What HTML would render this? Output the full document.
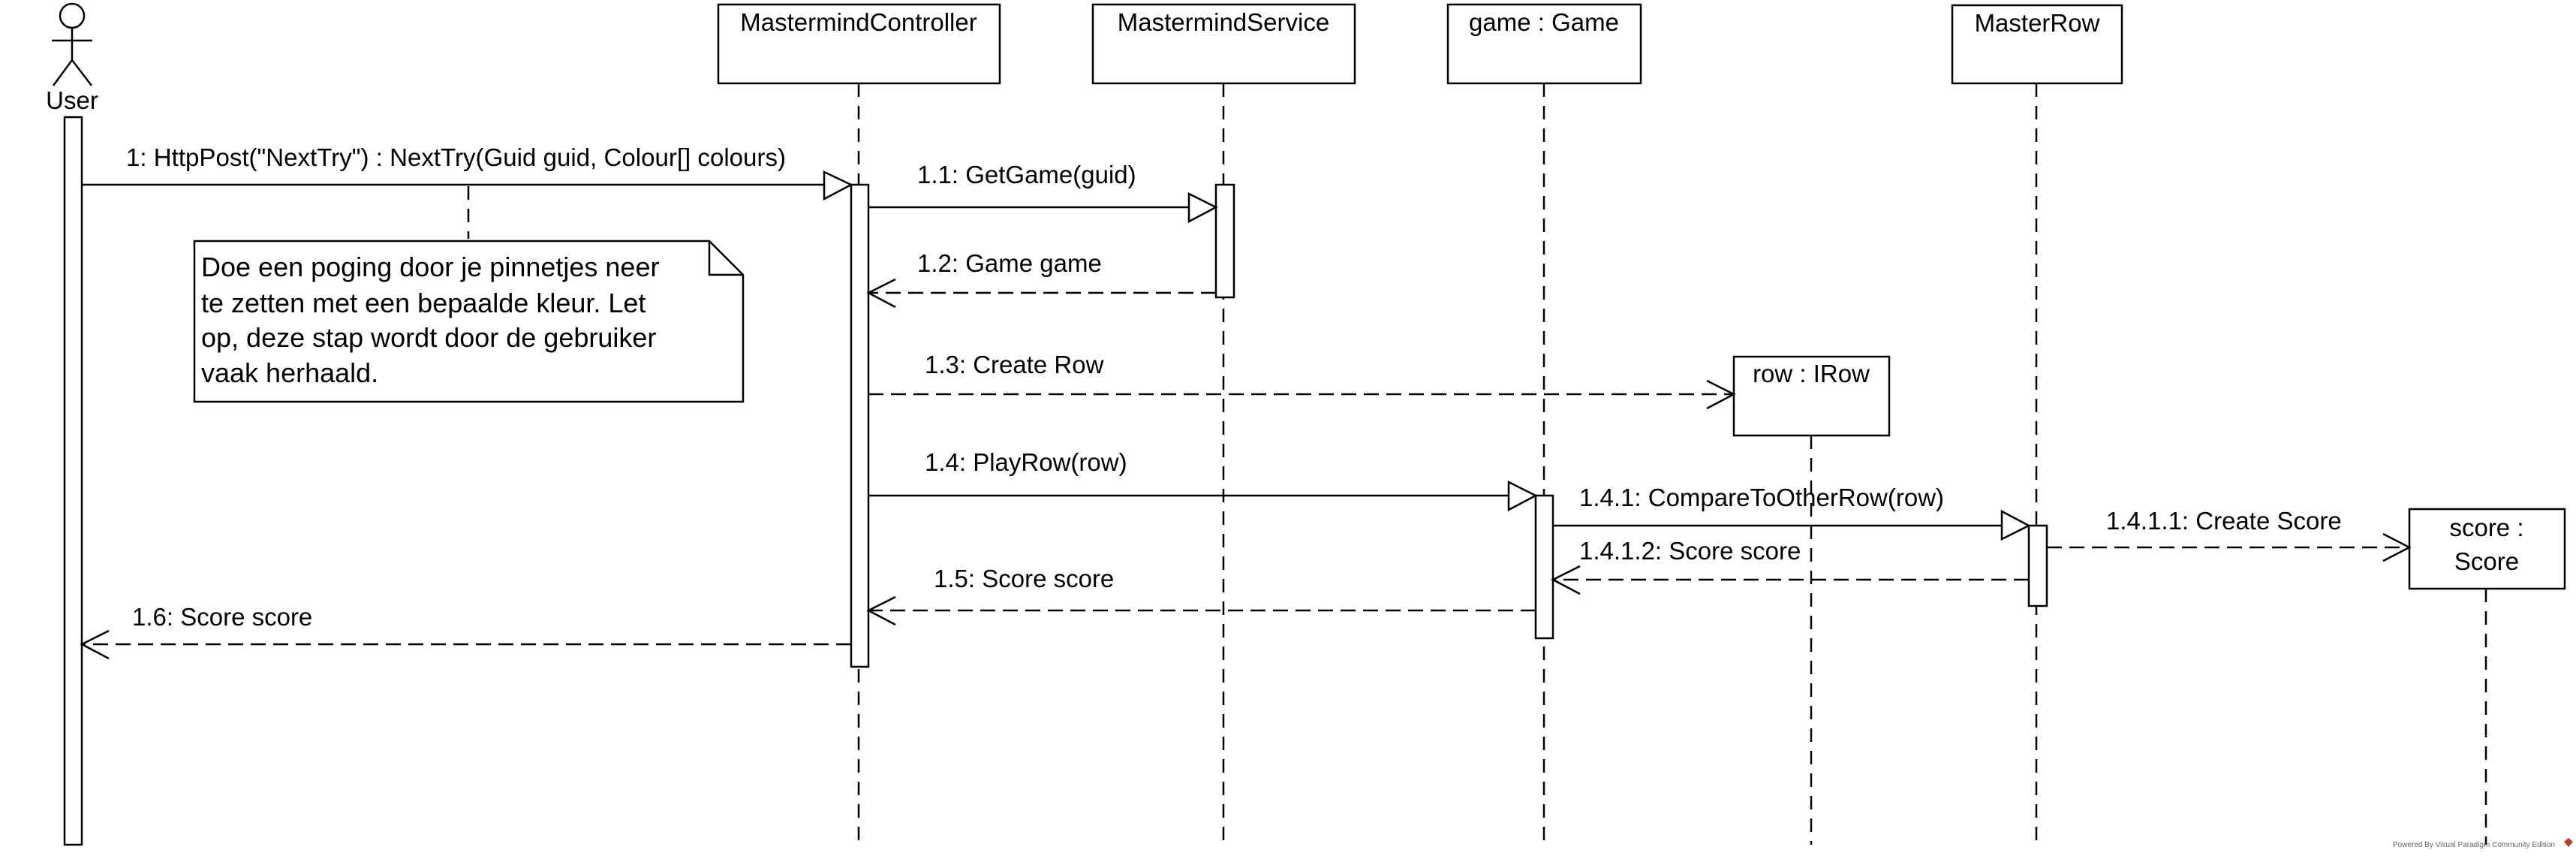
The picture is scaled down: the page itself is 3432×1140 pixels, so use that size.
<!DOCTYPE html>
<html><head><meta charset="utf-8"><style>
html,body{margin:0;padding:0;background:#fff;}
svg{display:block;}
text{font-family:"Liberation Sans",sans-serif;font-size:33px;fill:#000;}
</style></head><body>
<svg width="3432" height="1140" viewBox="0 0 3432 1140" xmlns="http://www.w3.org/2000/svg">
<g fill="none" stroke="#000" stroke-width="2.5">
  <ellipse cx="96" cy="21" rx="16" ry="16" fill="#fff"/>
  <line x1="96" y1="37" x2="96" y2="80"/>
  <line x1="69" y1="54" x2="123" y2="54"/>
  <line x1="96" y1="80" x2="71" y2="114"/>
  <line x1="96" y1="80" x2="122" y2="114"/>

  <g stroke-dasharray="18 12">
    <line x1="1144" y1="111" x2="1144" y2="1125"/>
    <line x1="1630" y1="111" x2="1630" y2="1125"/>
    <line x1="2057" y1="111" x2="2057" y2="1125"/>
    <line x1="2713" y1="111" x2="2713" y2="1125"/>
    <line x1="2413" y1="580" x2="2413" y2="1125"/>
    <line x1="3312" y1="784" x2="3312" y2="1125"/>
    <line x1="624" y1="248" x2="624" y2="318"/>
  </g>

  <rect x="957" y="6" width="375" height="105" fill="#fff"/>
  <rect x="1456" y="6" width="349" height="105" fill="#fff"/>
  <rect x="1929" y="6" width="257" height="105" fill="#fff"/>
  <rect x="2601" y="7" width="226" height="104" fill="#fff"/>
  <rect x="2310" y="475" width="207" height="105" fill="#fff"/>
  <rect x="3210" y="678" width="207" height="106" fill="#fff"/>

  <path d="M259 321 H945 L990 366 V535 H259 Z" fill="#fff"/>
  <path d="M945 321 V366 H990"/>

  <rect x="86" y="156" width="23" height="969" fill="#fff"/>
  <rect x="1134" y="246" width="23" height="642" fill="#fff"/>
  <rect x="1620" y="246" width="24" height="150" fill="#fff"/>
  <rect x="2046" y="660" width="23" height="190" fill="#fff"/>
  <rect x="2703" y="700" width="24" height="107" fill="#fff"/>

  <line x1="109" y1="246" x2="1098" y2="246"/>
  <path d="M1098 229 L1134 246 L1098 265 Z" fill="#fff"/>
  <line x1="1157" y1="276" x2="1584" y2="276"/>
  <path d="M1584 258 L1620 276 L1584 295 Z" fill="#fff"/>
  <line x1="1157" y1="660" x2="2010" y2="660"/>
  <path d="M2010 642 L2046 660 L2010 679 Z" fill="#fff"/>
  <line x1="2069" y1="700" x2="2667" y2="700"/>
  <path d="M2667 681 L2703 700 L2667 718 Z" fill="#fff"/>

  <g stroke-dasharray="20 10">
    <line x1="1620" y1="390" x2="1159" y2="390"/>
    <line x1="1157" y1="525" x2="2308" y2="525"/>
    <line x1="2727" y1="729" x2="3208" y2="729"/>
    <line x1="2703" y1="772" x2="2071" y2="772"/>
    <line x1="2046" y1="813" x2="1159" y2="813"/>
    <line x1="1134" y1="858" x2="111" y2="858"/>
  </g>
  <path d="M1193 372 L1157 390 L1193 409"/>
  <path d="M2274 507 L2310 525 L2274 544"/>
  <path d="M3175 711 L3210 729 L3175 747"/>
  <path d="M2105 754 L2069 772 L2105 791"/>
  <path d="M1193 795 L1157 813 L1193 832"/>
  <path d="M145 840 L109 858 L145 877"/>
</g>

<text x="96" y="145" text-anchor="middle">User</text>
<text x="1144" y="41" text-anchor="middle">MastermindController</text>
<text x="1630" y="41" text-anchor="middle">MastermindService</text>
<text x="2057" y="41" text-anchor="middle">game : Game</text>
<text x="2714" y="42" text-anchor="middle">MasterRow</text>
<text x="2413" y="509" text-anchor="middle">row : IRow</text>
<text x="3313" y="714" text-anchor="middle">score :</text>
<text x="3313" y="759" text-anchor="middle">Score</text>

<text x="168" y="221" textLength="879" lengthAdjust="spacingAndGlyphs">1: HttpPost("NextTry") : NextTry(Guid guid, Colour[] colours)</text>
<text x="1222" y="244">1.1: GetGame(guid)</text>
<text x="1222" y="362">1.2: Game game</text>
<text x="1232" y="497">1.3: Create Row</text>
<text x="1232" y="627">1.4: PlayRow(row)</text>
<text x="2104" y="674">1.4.1: CompareToOtherRow(row)</text>
<text x="2806" y="705">1.4.1.1: Create Score</text>
<text x="2104" y="745">1.4.1.2: Score score</text>
<text x="1244" y="782">1.5: Score score</text>
<text x="176" y="833">1.6: Score score</text>

<g style="font-size:36px">
<text x="268" y="368" style="font-size:36px">Doe een poging door je pinnetjes neer</text>
<text x="268" y="416" style="font-size:36px">te zetten met een bepaalde kleur. Let</text>
<text x="268" y="462" style="font-size:36px">op, deze stap wordt door de gebruiker</text>
<text x="268" y="509" style="font-size:36px">vaak herhaald.</text>
</g>

<text x="3188" y="1128" style="font-size:10px;fill:#666">Powered By Visual Paradigm Community Edition</text>
<path d="M3422 1116 l6 5 l-6 7 l-6 -7 z" fill="#c0392b"/>
</svg>
</body></html>
